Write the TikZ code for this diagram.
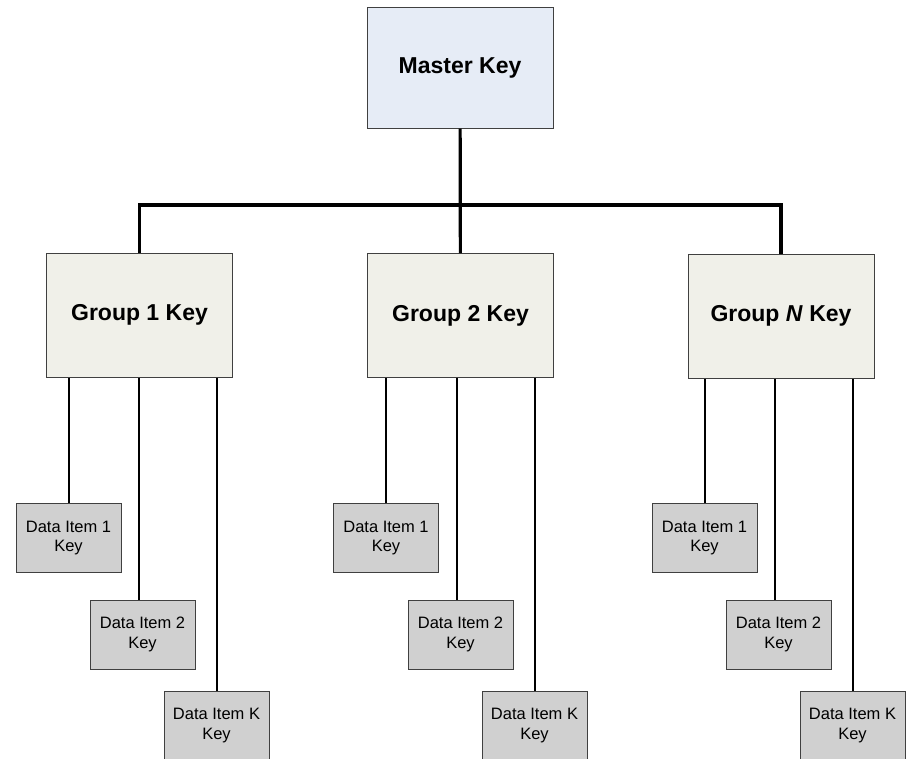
\documentclass[tikz,border=0pt]{standalone}
\usepackage{fontspec}
\setmainfont{Liberation Sans}
\definecolor{masterfill}{RGB}{230,236,246}
\definecolor{groupfill}{RGB}{240,240,233}
\definecolor{datafill}{RGB}{208,208,208}
\definecolor{boxline}{RGB}{64,64,64}
\tikzset{
	masterbox/.style={draw=boxline, line width=1pt, fill=masterfill, minimum width=186pt, minimum height=121pt, font=\fontsize{23}{27}\selectfont\bfseries},
	groupbox/.style={draw=boxline, line width=1pt, fill=groupfill, minimum width=186pt, minimum height=124pt, font=\fontsize{23}{27}\selectfont\bfseries},
	databox/.style={draw=boxline, line width=1pt, fill=datafill, minimum width=105pt, minimum height=69pt, align=center, font=\fontsize{16.5}{19.5}\selectfont},
	busline/.style={line width=3.2pt},
	itemline/.style={line width=2pt}
}

\begin{document}
\begin{tikzpicture}[x=1pt, y=-1pt]
		%%%%% START %%%%%
		\useasboundingbox (0, 0) rectangle (909, 758);
		
		\node[masterbox] (master) at (460, 67.5) {Master Key};
		
		\node[groupbox] (g1) at (139.5, 315) {Group 1 Key};
		\node[groupbox] (g2) at (460.5, 315.5) {Group 2 Key};
		\node[groupbox] (gN) at (781, 316) {Group \textit{N} Key};
		
		\coordinate (bus) at (460, 205);
		\draw[busline] (master) -- (g2);
		\draw[busline] (g1.north) |- (bus) -| (gN.north);
		
		% group 1
		\node[databox] (d11) at (68.5, 538) {Data Item 1\\Key};
		\node[databox] (d12) at (142.5, 634.5) {Data Item 2\\Key};
		\node[databox] (d1k) at (216.5, 725.5) {Data Item K\\Key};
		\draw[itemline] (d11.north) -- (d11.north |- g1.south);
		\draw[itemline] ([xshift=-4pt]d12.north) -- ([xshift=-4pt]d12.north |- g1.south);
		\draw[itemline] (d1k.north) -- (d1k.north |- g1.south);
		
		% group 2
		\node[databox] (d21) at (386, 538) {Data Item 1\\Key};
		\node[databox] (d22) at (460.5, 634.5) {Data Item 2\\Key};
		\node[databox] (d2k) at (534.5, 725.5) {Data Item K\\Key};
		\draw[itemline] (d21.north) -- (d21.north |- g2.south);
		\draw[itemline] ([xshift=-4pt]d22.north) -- ([xshift=-4pt]d22.north |- g2.south);
		\draw[itemline] (d2k.north) -- (d2k.north |- g2.south);
		
		% group N
		\node[databox] (dN1) at (704.5, 538) {Data Item 1\\Key};
		\node[databox] (dN2) at (778.5, 634.5) {Data Item 2\\Key};
		\node[databox] (dNk) at (852.5, 725.5) {Data Item K\\Key};
		\draw[itemline] (dN1.north) -- (dN1.north |- gN.south);
		\draw[itemline] ([xshift=-4pt]dN2.north) -- ([xshift=-4pt]dN2.north |- gN.south);
		\draw[itemline] (dNk.north) -- (dNk.north |- gN.south);
		
		%%%%% END %%%%%
	\end{tikzpicture}
\end{document}
